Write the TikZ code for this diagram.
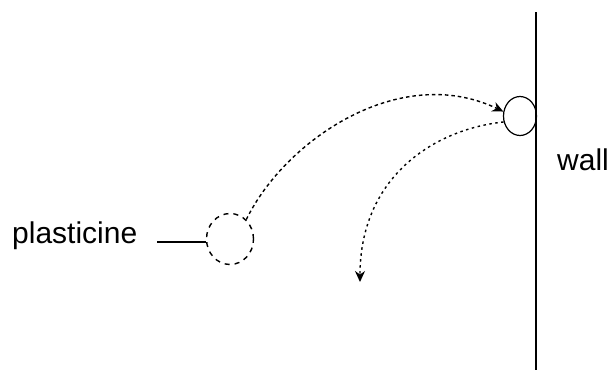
\documentclass[tikz,border=0pt]{standalone}
\usepackage{fontspec}
\setmainfont{Liberation Sans}
\usetikzlibrary{shapes.geometric,arrows.meta}
\begin{document}
\begin{tikzpicture}[x=1pt,y=-1pt,
  lbl/.style={inner sep=0pt,font=\fontsize{30}{36}\selectfont},
  solidball/.style={draw,ellipse,inner sep=0pt,line width=1.2pt},
  dashball/.style={draw,ellipse,inner sep=0pt,line width=1.4pt,dash pattern=on 5pt off 5pt},
  flight/.style={line width=1.4pt,dash pattern=on 3.5pt off 3pt,-{Stealth[length=11pt,width=10pt]}},
  fall/.style={line width=1.4pt,dash pattern=on 2.5pt off 3.5pt,-{Stealth[length=11pt,width=10pt]}}]
\useasboundingbox (0,0) rectangle (611,370);
% wall
\coordinate (walltop) at (536,12);
\coordinate (wallbot) at (536,370);
\draw[line width=1.6pt] (walltop) -- (wallbot);
\node[lbl,anchor=base west] (walllbl) at (557,170) {wall};
% balls
\node[dashball,minimum width=47pt,minimum height=51pt] (ball1) at (230,239) {};
\node[solidball,minimum width=33pt,minimum height=39pt] (ball2) at (520,116) {};
% label
\node[lbl,anchor=base west] (plast) at (12,243) {plasticine};
\coordinate (lead) at (157,242);
\draw[line width=1.1pt] (lead) -- (lead -| ball1.west);
% trajectories
\coordinate (land) at (360,282);
\draw[flight] (ball1.50) .. controls (285,140) and (400,62) .. (ball2.165);
\draw[fall] (ball2.200) .. controls (430,130) and (360,180) .. (land);
\end{tikzpicture}
\end{document}
